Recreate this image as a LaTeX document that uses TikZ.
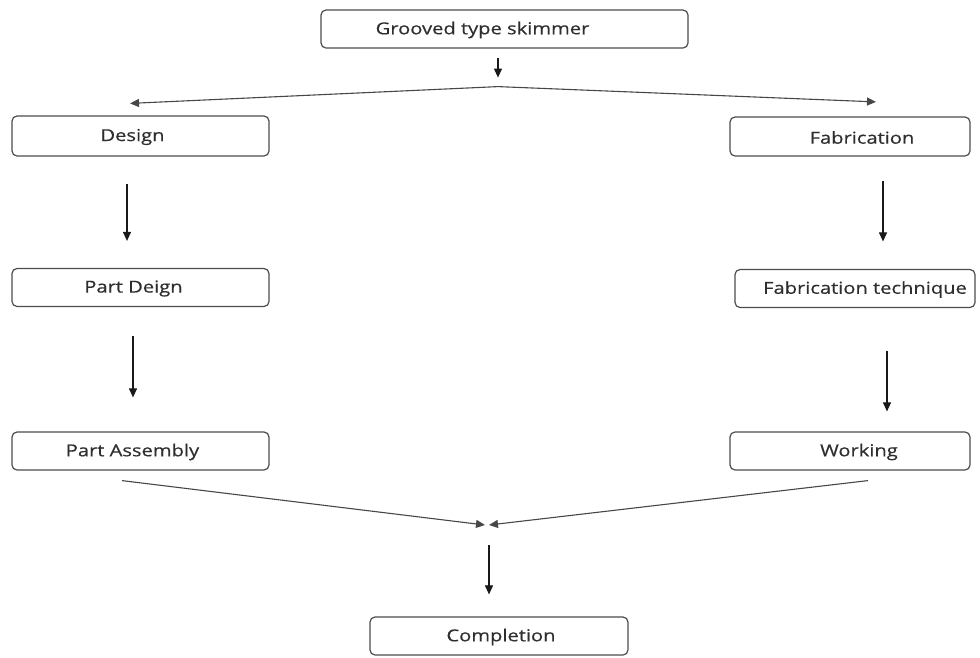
\documentclass[tikz,border=0pt]{standalone}
\usepackage{fontspec}
\setmainfont{Open Sans}[FakeStretch=1.22,FakeBold=0.5]
\usetikzlibrary{arrows.meta,calc}
\begin{document}
\begin{tikzpicture}[x=1pt,y=-1pt,
  box/.style={draw=black!70,line width=1.2pt,rounded corners=5pt,inner sep=0pt},
  lbl/.style={text=black!82,font=\fontsize{16.5}{18}\selectfont},
  arr/.style={draw=black!90,line width=1.1pt,-{Triangle[length=9pt,width=8pt]}},
  garr/.style={draw=black!72,line width=1.1pt,-{Triangle[length=9pt,width=8pt]}}]
\useasboundingbox (0,0) rectangle (980,657);
\node[box,minimum width=367pt,minimum height=38pt,label={[lbl,xshift=-22pt,yshift=-1pt]center:Grooved type skimmer}] (top) at (504.5,29) {};
\node[box,minimum width=257pt,minimum height=40pt,label={[lbl,xshift=-8pt,yshift=-1pt]center:Design}] (design) at (140.5,136) {};
\node[box,minimum width=257pt,minimum height=38pt,label={[lbl,xshift=-7pt,yshift=-1pt]center:Part Deign}] (partd) at (140.5,287.5) {};
\node[box,minimum width=257pt,minimum height=38pt,label={[lbl,xshift=-8pt,yshift=-1pt]center:Part Assembly}] (parta) at (140.5,451) {};
\node[box,minimum width=240pt,minimum height=39pt,label={[lbl,xshift=12pt,yshift=-1pt]center:Fabrication}] (fab) at (850,136.5) {};
\node[box,minimum width=240pt,minimum height=38pt,label={[lbl,xshift=10pt,yshift=-1pt]center:Fabrication technique}] (fabt) at (855,288.5) {};
\node[box,minimum width=240pt,minimum height=38pt,label={[lbl,xshift=9pt,yshift=-1pt]center:Working}] (work) at (850,451) {};
\node[box,minimum width=258pt,minimum height=38pt,label={[lbl,xshift=2pt,yshift=-1pt]center:Completion}] (comp) at (499,636) {};
\coordinate (apex) at ($(top.south)+(-6.5,38)$);
\coordinate (meet) at (487,525);
\draw[arr] ($(top.south)+(-6.5,9)$) -- ($(top.south)+(-6.5,29)$);
\draw[garr] (apex) -- ($(design.north)+(-10.5,-12)$);
\draw[garr] (apex) -- ($(fab.north)+(26,-14.5)$);
\draw[arr] ($(design.south)+(-13.5,27)$) -- ($(partd.north)+(-13.5,-27)$);
\draw[arr] ($(partd.south)+(-7.5,28.5)$) -- ($(parta.north)+(-7.5,-34)$);
\draw[arr] ($(fab.south)+(33,24.5)$) -- ($(fabt.north)+(28,-27.5)$);
\draw[arr] ($(fabt.south)+(32,42.5)$) -- ($(work.north)+(37,-20)$);
\draw[garr] ($(parta.south)+(-18.5,10)$) -- ($(meet)+(-2,0)$);
\draw[garr] ($(work.south)+(18,10)$) -- ($(meet)+(2,0)$);
\draw[arr] ($(meet)+(2,20)$) -- ($(comp.north)+(-10,-22)$);
\end{tikzpicture}
\end{document}
